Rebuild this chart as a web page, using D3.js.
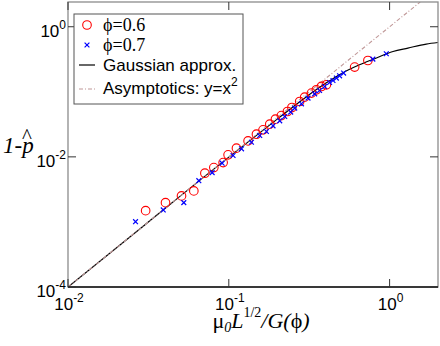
<!DOCTYPE html>
<html>
<head>
<meta charset="utf-8">
<title>1-p hat vs scaled mu</title>
<script src="https://cdn.jsdelivr.net/npm/d3@7"></script>
<style>
  body { margin: 0; background: #fff; }
  svg { font-family: "Liberation Sans", Arial, sans-serif; }
  .serif { font-family: "Liberation Serif", "Times New Roman", serif; }
</style>
</head>
<body>
<div id="chart"></div>
<script>
// tick positions and exponent labels
var xTicks = [0.01, 0.1, 1];
var xTickExp = ['-2', '-1', '0'];
var yTicks = [1e-4, 1e-2, 1];
var yTickExp = ['-4', '-2', '0'];

// phi = 0.6 (red circles)
var phi06X = [0.0304, 0.0404, 0.0508, 0.0606, 0.0710, 0.0807, 0.0922, 0.099, 0.1116, 0.1318,
  0.1486, 0.1633, 0.1798, 0.195, 0.2123, 0.2316, 0.247, 0.276, 0.2965, 0.3266,
  0.3505, 0.3765, 0.4045, 0.6063, 0.733];
var phi06Y = [0.00149, 0.00198, 0.00251, 0.0030, 0.00561, 0.00684, 0.00817, 0.01075, 0.0136, 0.0176,
  0.0223, 0.0260, 0.0318, 0.038, 0.0431, 0.0498, 0.0573, 0.071, 0.0828, 0.0955,
  0.1074, 0.1208, 0.1282, 0.24, 0.303];

// phi = 0.7 (blue crosses)
var phi07X = [0.0263, 0.0391, 0.0525, 0.0651, 0.0788, 0.0909, 0.1063, 0.12, 0.1383, 0.1557,
  0.1714, 0.1884, 0.2074, 0.2228, 0.2426, 0.257, 0.283, 0.311, 0.342, 0.367,
  0.3945, 0.4236, 0.4446, 0.4667, 0.4887, 0.5176, 0.787, 0.954];
var phi07Y = [0.00101, 0.00153, 0.00198, 0.00431, 0.00573, 0.0080, 0.0105, 0.0133, 0.0168, 0.0213,
  0.0245, 0.030, 0.0358, 0.0417, 0.0488, 0.0561, 0.0653, 0.080, 0.093, 0.1047,
  0.1208, 0.139, 0.1493, 0.1625, 0.176, 0.194, 0.318, 0.385];

// Gaussian approximation curve
var gaussX = [0.01, 0.03, 0.1, 0.2, 0.3, 0.4, 0.5, 0.65, 0.8, 1.05, 1.3, 1.69, 2.0];
var gaussY = [1e-4, 9e-4, 0.0099, 0.038, 0.082, 0.135, 0.19, 0.26, 0.32, 0.417, 0.47, 0.542, 0.573];

// asymptote y = x^2 (end points)
var asymX = [0.01, 1.55];
var asymY = [1e-4, 2.4];

var width = 440, height = 346;
var pLeft = 68, pRight = 438, pTop = 2, pBottom = 287;
var tickLen = 8;

var x = d3.scaleLog().domain([0.01, 2]).range([pLeft, pRight]);
var y = d3.scaleLog().domain([1e-4, 2.4]).range([pBottom, pTop]);

var svg = d3.select('#chart')
  .append('svg')
  .attr('width', width)
  .attr('height', height);

svg.append('clipPath')
  .attr('id', 'plot')
  .append('rect')
  .attr('x', pLeft).attr('y', pTop)
  .attr('width', pRight - pLeft).attr('height', pBottom - pTop);

function zip(xs, ys) {
  return xs.map(function(v, i) { return [v, ys[i]]; });
}

var line = d3.line()
  .x(function(d) { return x(d[0]); })
  .y(function(d) { return y(d[1]); });

var plot = svg.append('g').attr('clip-path', 'url(#plot)');

plot.append('path')
  .datum(zip(gaussX, gaussY))
  .attr('d', line.curve(d3.curveMonotoneX))
  .attr('fill', 'none')
  .attr('stroke', '#000')
  .attr('stroke-width', 1.2);

plot.append('path')
  .datum(zip(asymX, asymY))
  .attr('d', line.curve(d3.curveLinear))
  .attr('fill', 'none')
  .attr('stroke', '#c09898')
  .attr('stroke-width', 1.1)
  .attr('stroke-dasharray', '4,2,1,2');

plot.selectAll('circle.p06')
  .data(zip(phi06X, phi06Y))
  .enter()
  .append('circle')
  .attr('class', 'p06')
  .attr('cx', function(d) { return x(d[0]); })
  .attr('cy', function(d) { return y(d[1]); })
  .attr('r', 4.3)
  .attr('fill', 'none')
  .attr('stroke', '#ff0000')
  .attr('stroke-width', 1.1);

function cross(sel, s) {
  return sel.append('path')
    .attr('d', 'M' + (-s) + ',' + (-s) + 'L' + s + ',' + s + 'M' + (-s) + ',' + s + 'L' + s + ',' + (-s))
    .attr('fill', 'none')
    .attr('stroke', '#0000ff')
    .attr('stroke-width', 1.2);
}

plot.selectAll('g.p07')
  .data(zip(phi07X, phi07Y))
  .enter()
  .append('g')
  .attr('class', 'p07')
  .attr('transform', function(d) { return 'translate(' + x(d[0]) + ',' + y(d[1]) + ')'; })
  .call(cross, 2.4);

// frame
svg.append('rect')
  .attr('x', pLeft).attr('y', pTop)
  .attr('width', pRight - pLeft).attr('height', pBottom - pTop)
  .attr('fill', 'none')
  .attr('stroke', '#8c8c8c')
  .attr('stroke-width', 1.3);
svg.append('line')
  .attr('x1', pLeft).attr('x2', pRight)
  .attr('y1', pBottom).attr('y2', pBottom)
  .attr('stroke', '#111')
  .attr('stroke-width', 1.3);

// ticks, inward on all four sides
var ticks = svg.append('g').attr('stroke', '#333').attr('stroke-width', 1);
xTicks.forEach(function(t) {
  ticks.append('line').attr('x1', x(t)).attr('x2', x(t)).attr('y1', pBottom).attr('y2', pBottom - tickLen);
  ticks.append('line').attr('x1', x(t)).attr('x2', x(t)).attr('y1', pTop).attr('y2', pTop + tickLen);
});
yTicks.forEach(function(t) {
  ticks.append('line').attr('x1', pLeft).attr('x2', pLeft + tickLen).attr('y1', y(t)).attr('y2', y(t));
  ticks.append('line').attr('x1', pRight).attr('x2', pRight - tickLen).attr('y1', y(t)).attr('y2', y(t));
});

// tick labels
xTicks.forEach(function(t, i) {
  var lab = svg.append('text')
    .attr('x', x(t) + 1)
    .attr('y', pBottom + 23)
    .attr('text-anchor', 'middle')
    .attr('font-size', 17);
  lab.append('tspan').text('10');
  lab.append('tspan').attr('dy', -8).attr('font-size', 12).text(xTickExp[i]);
});
yTicks.forEach(function(t, i) {
  var lab = svg.append('text')
    .attr('x', 66)
    .attr('y', y(t) + 10)
    .attr('text-anchor', 'end')
    .attr('font-size', 17);
  lab.append('tspan').text('10');
  lab.append('tspan').attr('dy', -8).attr('font-size', 12).text(yTickExp[i]);
});

// axis titles
var xt = svg.append('text')
  .attr('class', 'serif')
  .attr('x', 261)
  .attr('y', 328)
  .attr('text-anchor', 'middle')
  .attr('font-size', 22);
xt.append('tspan').text('μ');
xt.append('tspan').attr('font-style', 'italic').attr('font-size', 14).attr('dy', 4).text('0');
xt.append('tspan').attr('font-style', 'italic').attr('dy', -4).text('L');
xt.append('tspan').attr('font-size', 14).attr('dy', -11).text('1/2');
xt.append('tspan').attr('font-style', 'italic').attr('dy', 11).text('/G(');
xt.append('tspan').text('ϕ');
xt.append('tspan').attr('font-style', 'italic').text(')');

var yt = svg.append('text')
  .attr('class', 'serif')
  .attr('x', 3)
  .attr('y', 153)
  .attr('font-size', 23)
  .attr('font-style', 'italic');
yt.append('tspan').text('1-');
yt.append('tspan').text('p');
svg.append('text')
  .attr('class', 'serif')
  .attr('x', 27)
  .attr('y', 143)
  .attr('text-anchor', 'middle')
  .attr('font-size', 21)
  .text('^');

// legend
var legend = svg.append('g');
legend.append('rect')
  .attr('x', 74).attr('y', 14)
  .attr('width', 169).attr('height', 90)
  .attr('fill', '#fff')
  .attr('stroke', '#555')
  .attr('stroke-width', 1);

legend.append('circle')
  .attr('cx', 87).attr('cy', 25).attr('r', 4.3)
  .attr('fill', 'none').attr('stroke', '#ff0000').attr('stroke-width', 1.1);
legend.append('g')
  .attr('transform', 'translate(87,45)')
  .call(cross, 2.4);
legend.append('line')
  .attr('x1', 79).attr('x2', 95).attr('y1', 65).attr('y2', 65)
  .attr('stroke', '#000').attr('stroke-width', 1.2);
legend.append('line')
  .attr('x1', 79).attr('x2', 95).attr('y1', 89).attr('y2', 89)
  .attr('stroke', '#c09898').attr('stroke-width', 1.1)
  .attr('stroke-dasharray', '4,2,1,2');

legend.append('text').attr('class', 'serif')
  .attr('x', 103).attr('y', 31).attr('font-size', 18).text('ϕ=0.6');
legend.append('text').attr('class', 'serif')
  .attr('x', 103).attr('y', 51).attr('font-size', 18).text('ϕ=0.7');
legend.append('text')
  .attr('x', 103).attr('y', 71).attr('font-size', 17).text('Gaussian approx.');
var asymLab = legend.append('text')
  .attr('x', 103).attr('y', 94).attr('font-size', 17);
asymLab.append('tspan').text('Asymptotics: y=x');
asymLab.append('tspan').attr('dy', -8).attr('font-size', 12).text('2');
</script>
</body>
</html>
